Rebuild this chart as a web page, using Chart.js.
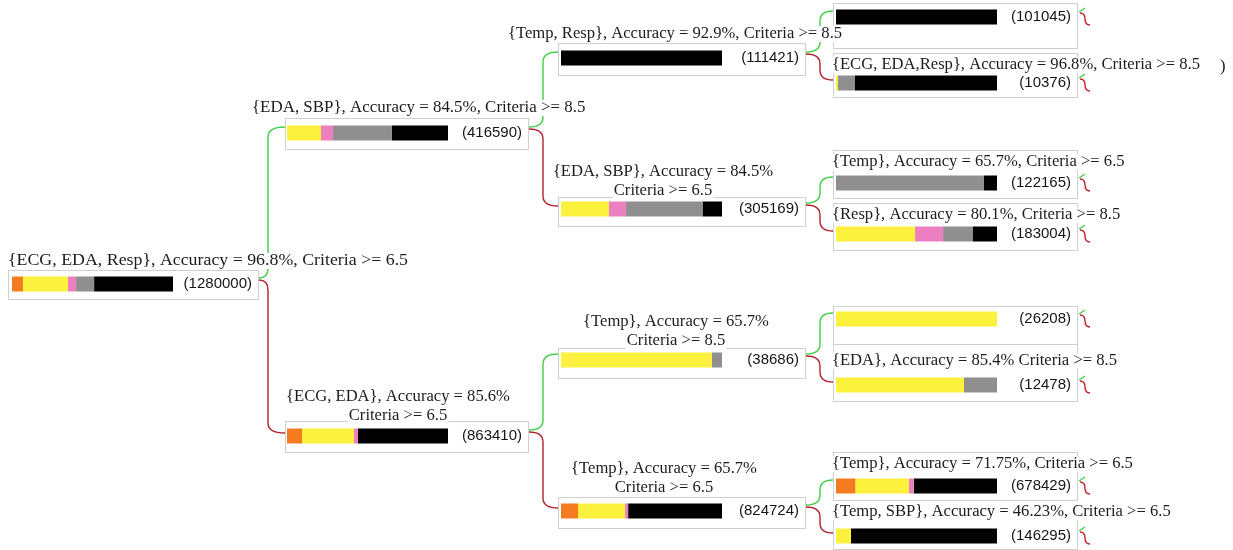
<!DOCTYPE html>
<html>
<head>
<meta charset="utf-8">
<script src="https://cdn.jsdelivr.net/npm/chart.js@4/dist/chart.umd.min.js"></script>
<style>
  html, body { margin: 0; padding: 0; background: #fff; }
  #wrap { width: 1233px; height: 550px; position: relative; }
</style>
</head>
<body>
<div id="wrap"><canvas id="tree"></canvas></div>
<script>
// node data (tree order: root, its two children, grandchildren, leaves)
const nodeCounts = [1280000, 416590, 863410, 111421, 305169, 38686, 824724,
                    101045, 10376, 122165, 183004, 26208, 12478, 678429, 146295];
const nodeParent = [-1, 0, 0, 1, 1, 2, 2, 3, 3, 4, 4, 5, 5, 6, 6];
const nodeLabels = [
  ['{ECG, EDA, Resp}, Accuracy = 96.8%, Criteria >= 6.5'],
  ['{EDA, SBP}, Accuracy = 84.5%, Criteria >= 8.5'],
  ['{ECG, EDA}, Accuracy = 85.6%', 'Criteria >= 6.5'],
  ['{Temp, Resp}, Accuracy = 92.9%, Criteria >= 8.5'],
  ['{EDA, SBP}, Accuracy = 84.5%', 'Criteria >= 6.5'],
  ['{Temp}, Accuracy = 65.7%', 'Criteria >= 8.5'],
  ['{Temp}, Accuracy = 65.7%', 'Criteria >= 6.5'],
  [],
  ['{ECG, EDA,Resp}, Accuracy = 96.8%, Criteria >= 8.5'],
  ['{Temp}, Accuracy = 65.7%, Criteria >= 6.5'],
  ['{Resp}, Accuracy = 80.1%, Criteria >= 8.5'],
  [],
  ['{EDA}, Accuracy = 85.4% Criteria >= 8.5'],
  ['{Temp}, Accuracy = 71.75%, Criteria >= 6.5'],
  ['{Temp, SBP}, Accuracy = 46.23%, Criteria >= 6.5']
];

// class shares per node (orange, yellow, pink, gray, black)
const shareOrange = [0.068, 0, 0.093, 0, 0, 0, 0.106, 0, 0, 0, 0, 0, 0, 0.12, 0];
const shareYellow = [0.280, 0.211, 0.323, 0, 0.298, 0.938, 0.292, 0, 0.012, 0, 0.491, 1, 0.795, 0.333, 0.093];
const sharePink   = [0.050, 0.075, 0.025, 0, 0.106, 0, 0.019, 0, 0, 0, 0.174, 0, 0, 0.03, 0];
const shareGray   = [0.112, 0.366, 0, 0, 0.478, 0.062, 0, 0, 0.106, 0.919, 0.186, 0, 0.205, 0, 0];
const shareBlack  = [0.490, 0.348, 0.559, 1, 0.118, 0, 0.583, 1, 0.882, 0.081, 0.149, 0, 0, 0.517, 0.907];
const classShares = [shareOrange, shareYellow, sharePink, shareGray, shareBlack];
const classColors = ['#f47b20', '#fcf13c', '#ec7fbf', '#8f8f8f', '#000000'];

// layout
const nodeCol = [0, 1, 1, 2, 2, 2, 2, 3, 3, 3, 3, 3, 3, 3, 3];
const nodeBarY = [284, 133, 436, 58, 209, 360, 511, 17, 83, 183, 234, 319, 385, 486, 536];
const boxTop = [270, 118, 421, 43, 197, 348, 497, 3, 53, 150, 203, 306, 344, 452, 505];
const boxBottom = [299, 149, 452, 75, 226, 378, 528, 48, 97, 198, 250, 344, 401, 500, 549];
const labelPos = [[8, 261], [252, 108], [398, 397], [508, 34], [663, 172], [676, 322], [664, 469],
                  null, [832, 65], [832, 162], [832, 215], null, [832, 361], [832, 464], [832, 512]];
const labelStretch = [1.075, 1.02, 1, 1, 1, 1, 1, 1, 1, 1, 1, 1, 1, 1, 1];
const colBoxLeft = [8, 285, 558, 833];
const colBoxRight = [258, 528, 805, 1077];
const colBarStart = [12, 287, 561, 836];
const elbowX = [268, 543, 820];
const barSpan = 161;

const datasets = classShares.map((shares, k) => {
  const data = [];
  nodeCounts.forEach((_, i) => {
    if (!shares[i]) return;
    let before = 0;
    for (let j = 0; j < k; j++) before += classShares[j][i];
    const s = colBarStart[nodeCol[i]];
    data.push({ y: nodeBarY[i], x: [s + before * barSpan, s + (before + shares[i]) * barSpan] });
  });
  return { data: data, backgroundColor: classColors[k], borderWidth: 0 };
});

function elbow(ctx, x0, y0, xm, x1, y1) {
  const dir = Math.sign(y1 - y0) || 1;
  const r = Math.min(10, Math.abs(y1 - y0) / 2);
  ctx.beginPath();
  ctx.moveTo(x0, y0);
  ctx.quadraticCurveTo(xm, y0, xm, y0 + dir * r);
  ctx.lineTo(xm, y1 - dir * r);
  ctx.quadraticCurveTo(xm, y1, x1, y1);
  ctx.stroke();
}

const treePlugin = {
  id: 'treePlugin',
  beforeDatasetsDraw(chart) {
    const ctx = chart.ctx;
    const xs = chart.scales.x, ys = chart.scales.y;
    const X = v => xs.getPixelForValue(v), Y = v => ys.getPixelForValue(v);
    ctx.save();
    ctx.lineWidth = 1.4;
    nodeParent.forEach((p, i) => {
      if (p < 0) return;
      const c = nodeCol[p];
      const upper = nodeBarY[i] < nodeBarY[p];
      ctx.strokeStyle = upper ? '#3fcf45' : '#b3222f';
      elbow(ctx, X(colBoxRight[c] + 1), Y(nodeBarY[p] - (upper ? 6 : 4)), X(elbowX[c]),
            X(colBoxLeft[c + 1]), Y(nodeBarY[i] - (upper ? 6 : 3)));
    });
    // little curls on leaves
    nodeCounts.forEach((_, i) => {
      if (nodeCol[i] !== 3) return;
      const x = X(colBoxRight[3]), y = Y(nodeBarY[i]);
      ctx.strokeStyle = '#c4202c';
      ctx.beginPath();
      ctx.moveTo(x + 3, y - 4);
      ctx.quadraticCurveTo(x + 8, y - 4, x + 8, y + 2);
      ctx.quadraticCurveTo(x + 8, y + 8, x + 13, y + 8);
      ctx.stroke();
      ctx.strokeStyle = '#3fcf45';
      ctx.beginPath();
      ctx.moveTo(x + 2, y - 5);
      ctx.lineTo(x + 8, y - 9);
      ctx.stroke();
    });
    // node boxes
    ctx.strokeStyle = '#cfcfcf';
    ctx.lineWidth = 1;
    nodeCounts.forEach((_, i) => {
      const c = nodeCol[i];
      ctx.strokeRect(Math.round(X(colBoxLeft[c])) + 0.5, Math.round(Y(boxTop[i])) + 0.5,
                     X(colBoxRight[c]) - X(colBoxLeft[c]), Y(boxBottom[i]) - Y(boxTop[i]));
    });
    ctx.restore();
  },
  afterDatasetsDraw(chart) {
    const ctx = chart.ctx;
    const xs = chart.scales.x, ys = chart.scales.y;
    const X = v => xs.getPixelForValue(v), Y = v => ys.getPixelForValue(v);
    ctx.save();
    ctx.textBaseline = 'middle';
    ctx.fillStyle = '#151515';
    ctx.font = '15px "Liberation Sans", Arial, sans-serif';
    ctx.textAlign = 'right';
    nodeCounts.forEach((n, i) => {
      ctx.fillText('(' + n + ')', X(colBoxRight[nodeCol[i]] - 6), Y(nodeBarY[i]));
    });
    ctx.font = '16.6px "Liberation Serif", "Times New Roman", serif';
    nodeLabels.forEach((lines, i) => {
      if (!labelPos[i]) return;
      const centred = lines.length > 1;
      ctx.textAlign = centred ? 'center' : 'left';
      lines.forEach((t, k) => {
        ctx.save();
        ctx.translate(X(labelPos[i][0]), Y(labelPos[i][1] + k * 19));
        ctx.scale(labelStretch[i], 1);
        const w = ctx.measureText(t).width;
        ctx.fillStyle = '#fff';
        ctx.fillRect(centred ? -w / 2 - 1 : -1, -8, w + 2, 16);
        ctx.fillStyle = '#1c1c1c';
        ctx.fillText(t, 0, 0);
        ctx.restore();
      });
    });
    ctx.textAlign = 'left';
    ctx.fillText(')', X(1220), Y(67));
    ctx.restore();
  }
};

new Chart(document.getElementById('tree'), {
  type: 'bar',
  data: { datasets: datasets },
  options: {
    indexAxis: 'y',
    responsive: true,
    maintainAspectRatio: false,
    animation: false,
    grouped: false,
    categoryPercentage: 1,
    barPercentage: 0.8,
    maxBarThickness: 15,
    layout: { padding: 0 },
    scales: {
      x: { type: 'linear', min: 0, max: 1233, offset: false, display: false },
      y: { type: 'linear', min: 0, max: 550, reverse: true, offset: false, display: false, ticks: { stepSize: 110 } }
    },
    plugins: { legend: { display: false }, tooltip: { enabled: false } }
  },
  plugins: [treePlugin]
});
</script>
</body>
</html>
